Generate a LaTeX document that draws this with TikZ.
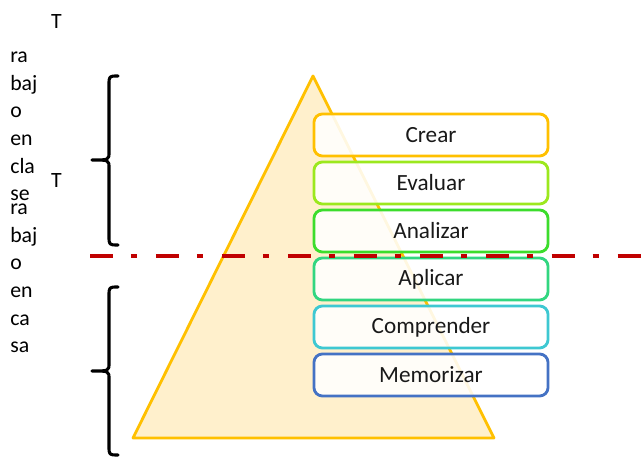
\documentclass[tikz,border=0pt]{standalone}
\usepackage{fontspec}
\setmainfont{Carlito}
\usepackage{xcolor}
\usetikzlibrary{positioning}
\definecolor{piramide}{HTML}{FFC000}
\definecolor{piramidefill}{HTML}{FFF0CC}
\definecolor{corte}{HTML}{C00000}
\definecolor{ncrear}{HTML}{FFC000}
\definecolor{nevaluar}{HTML}{9CE81E}
\definecolor{nanalizar}{HTML}{3CDD2C}
\definecolor{naplicar}{HTML}{32D680}
\definecolor{ncomprender}{HTML}{3EC8D2}
\definecolor{nmemorizar}{HTML}{4472C4}

\begin{document}
\begin{tikzpicture}[
    x=0.025cm, y=-0.025cm,
    nivel/.style={draw=#1, line width=2pt, rounded corners=6pt, fill=white, fill opacity=0.88, text opacity=1,
        minimum width=5.85cm, minimum height=1.05cm, inner sep=0pt, font=\fontsize{16.5}{19}\selectfont, text=black!90},
    llave/.style={line width=2.2pt, line cap=round, line join=round},
    lado/.style={anchor=north west, inner sep=0pt, align=left, font=\fontsize{15.5}{19.6}\selectfont},
]
    \useasboundingbox (0,0) rectangle (641,458);

    % Pyramid
    \coordinate (cima) at (313,76);
    \coordinate (izq) at (133,438);
    \coordinate (der) at (494,438);
    \draw[piramide, fill=piramidefill, line width=2pt, line join=round] (cima) -- (der) -- (izq) -- cycle;

    % Levels
    \node[nivel=ncrear] (crear) at (431,135) {Crear};
    \node[nivel=nevaluar] (evaluar) at (431,183) {Evaluar};
    \node[nivel=nanalizar] (analizar) at (431,231) {Analizar};
    \node[nivel=naplicar] (aplicar) at (431,279) {Aplicar};
    \node[nivel=ncomprender] (comprender) at (431,327) {Comprender};
    \node[nivel=nmemorizar] (memorizar) at (431,375) {Memorizar};

    % Side labels
    \node[lado] (clase) at (10,14) {\hspace*{29pt}T\\[5pt]ra\\baj\\o\\en\\cla\\se};
    \node[lado] (casa) at (10,173) {\hspace*{29pt}T\\ra\\baj\\o\\en\\ca\\sa};

    % Braces
    \draw[llave] (118,76) .. controls (109,76) .. (109,85) -- (109,152) .. controls (109,160) .. (92,160)
        .. controls (109,160) .. (109,168) -- (109,236) .. controls (109,245) .. (118,245);
    \draw[llave] (118,287) .. controls (109,287) .. (109,296) -- (109,363) .. controls (109,371) .. (92,371)
        .. controls (109,371) .. (109,379) -- (109,446) .. controls (109,455) .. (118,455);

    % Dividing line
    \coordinate (cortei) at (90,256);
    \coordinate (corted) at (641,256);
    \draw[corte, line width=3.5pt, dash pattern=on 16.3pt off 12.8pt on 4.3pt off 13.5pt] (cortei) -- (corted);
\end{tikzpicture}
\end{document}
